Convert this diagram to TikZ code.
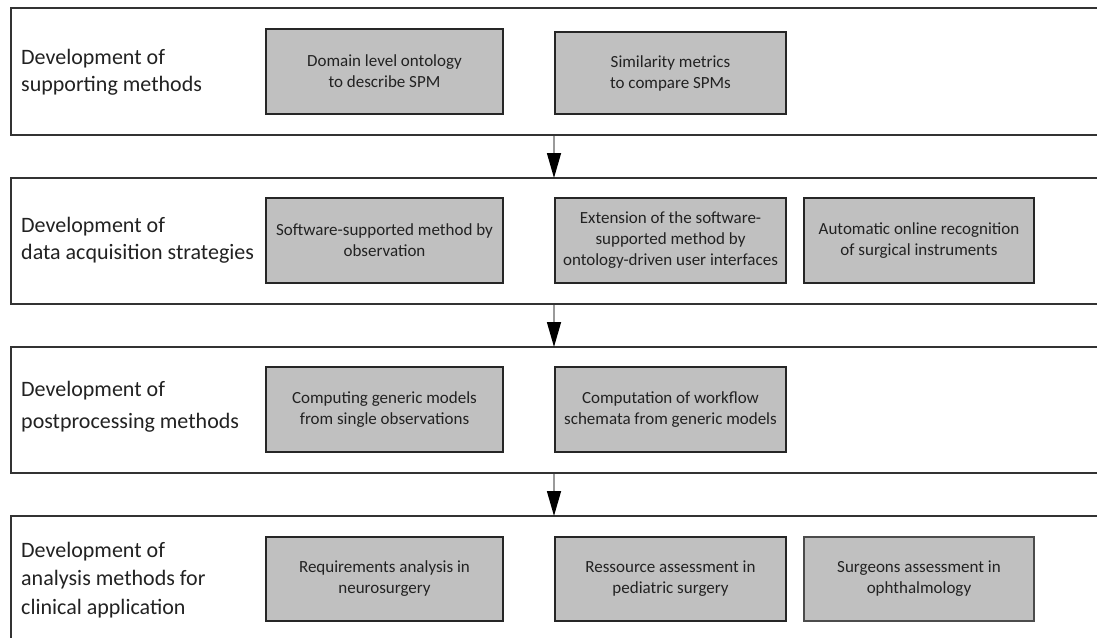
\documentclass[tikz,border=0pt]{standalone}
\usepackage{fontspec}
\setmainfont{Carlito}
\usetikzlibrary{arrows.meta}
\definecolor{boxgray}{HTML}{C0C0C0}
\definecolor{frame}{HTML}{333333}
\definecolor{ink}{HTML}{222222}
\definecolor{shaft}{HTML}{9A9A9A}
\tikzset{
  panel/.style={draw=frame, line width=2pt, fill=white, rectangle, anchor=north west, minimum width=1110pt, inner sep=0pt},
  stepbox/.style={draw=black!85, line width=2pt, fill=boxgray, rectangle, align=center, inner sep=0pt,
    text=ink, font=\fontsize{17}{21}\selectfont},
  phase/.style={anchor=west, align=left, inner sep=0pt, text=ink, font=\fontsize{22}{27}\selectfont},
  flow/.style={draw=shaft, line width=1.5pt, -{Triangle[width=14pt,length=25pt,fill=black,color=black]}, shorten >=-1pt}
}
\begin{document}
\begin{tikzpicture}[x=1pt,y=-1pt]
\useasboundingbox (0,0) rectangle (1097,637);
\clip (0,0) rectangle (1097,637);
\fill[white] (0,0) rectangle (1097,637);

% phase frames (they run past the right and lower edges)
\node[panel, minimum height=127pt] (p1) at (10,7) {};
\node[panel, minimum height=126pt] (p2) at (10,177) {};
\node[panel, minimum height=126pt] (p3) at (10,346) {};
\node[panel, minimum height=160pt] (p4) at (10,515) {};

% phase titles
\node[phase] (t1) at (21,72) {Development of\\supporting methods};
\node[phase] (t2) at (21,240) {Development of\\data acquisition strategies};
\node[phase, font=\fontsize{22}{32}\selectfont] (t3) at (21,407) {Development of\\postprocessing methods};
\node[phase, font=\fontsize{22}{28.5}\selectfont] (t4) at (21,580) {Development of\\analysis methods for\\clinical application};

% work packages
\node[stepbox, minimum width=237pt, minimum height=85pt] (b11) at (384.5,71.5) {Domain level ontology\\to describe SPM};
\node[stepbox, minimum width=231pt, minimum height=82pt] (b12) at (670.5,73) {Similarity metrics\\to compare SPMs};

\node[stepbox, minimum width=237pt, minimum height=85pt] (b21) at (384.5,240.5) {Software-supported method by\\observation};
\node[stepbox, minimum width=231pt, minimum height=85pt] (b22) at (670.5,240.5) {Extension of the software-\\supported method by\\ontology-driven user interfaces};
\node[stepbox, minimum width=230pt, minimum height=85pt] (b23) at (919,240.5) {Automatic online recognition\\of surgical instruments};

\node[stepbox, minimum width=237pt, minimum height=85pt] (b31) at (384.5,409.5) {Computing generic models\\from single observations};
\node[stepbox, minimum width=231pt, minimum height=85pt] (b32) at (670.5,409.5) {Computation of workflow\\schemata from generic models};

\node[stepbox, minimum width=237pt, minimum height=84pt] (b41) at (384.5,579) {Requirements analysis in\\neurosurgery};
\node[stepbox, minimum width=231pt, minimum height=84pt] (b42) at (670.5,579) {Ressource assessment in\\pediatric surgery};
\node[stepbox, minimum width=230pt, minimum height=84pt, draw=black!70] (b43) at (919,579) {Surgeons assessment in\\ophthalmology};

% transitions between phases
\draw[flow] (p1.south -| b12.west) -- (p2.north -| b12.west);
\draw[flow] (p2.south -| b22.west) -- (p3.north -| b22.west);
\draw[flow] (p3.south -| b32.west) -- (p4.north -| b32.west);
\end{tikzpicture}
\end{document}
